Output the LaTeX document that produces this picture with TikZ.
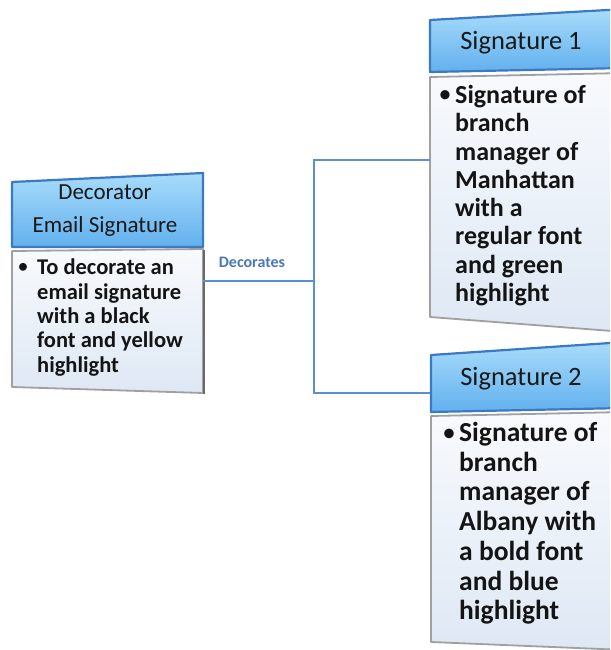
\documentclass[tikz,border=0pt]{standalone}
\usepackage{fontspec}
\setmainfont{Carlito}
\definecolor{hdtop}{HTML}{A8DCFB}
\definecolor{hdbot}{HTML}{62B0EE}
\definecolor{hdline}{HTML}{3B7AC2}
\definecolor{bdtop}{HTML}{F8FAFD}
\definecolor{bdbot}{HTML}{DEE8F4}
\definecolor{bdline}{HTML}{A0A0A0}
\definecolor{bdshadow}{HTML}{6A6A6A}
\definecolor{connc}{HTML}{5B8FD0}
\definecolor{labc}{HTML}{4A78B5}
\tikzset{
  hdshape/.style={top color=hdtop, bottom color=hdbot, draw=hdline, line width=2.2pt, line join=round},
  bdshape/.style={top color=bdtop, bottom color=bdbot, draw=bdline, line width=1.8pt, line join=round},
  shadowline/.style={draw=bdshadow, line width=2.4pt},
  conn/.style={draw=connc, line width=1.1pt},
  bodytext/.style={anchor=north west, inner sep=0pt, align=left, text=black!92, font=\bfseries},
  bullettext/.style={inner sep=0pt, text=black!92},
  headtext/.style={inner sep=0pt, align=center, text=black!90},
}
\begin{document}
\begin{tikzpicture}[x=1pt,y=-1pt]
\useasboundingbox (0,0) rectangle (610,650);
\clip (0,0) rectangle (610,650);

% ---------- left box (Decorator) ----------
\shade[hdshape] (12,182) -- (203,173) -- (203,247) -- (12,247) -- cycle;
\shade[bdshape] (12,251) -- (203,249) -- (203,393) -- (12,387) -- cycle;
\draw[shadowline] (204,250) -- (204,394);
\node[headtext, font=\fontsize{23}{33}\selectfont] (dech) at (105,211) {Decorator\\Email Signature};
\node[bullettext, font=\fontsize{22}{24}\selectfont] (decb) at (23,268) {\textbullet};
\node[bodytext, font=\fontsize{22.5}{24.3}\selectfont\bfseries] (decbody) at (37,259)
  {To decorate an\\email signature\\with a black\\font and yellow\\highlight};

% ---------- Signature 1 ----------
\shade[hdshape] (430,20) -- (625,9) -- (625,68) -- (430,72) -- cycle;
\shade[bdshape] (430,77) -- (625,73) -- (625,332) -- (430,317) -- cycle;
\node[headtext, font=\fontsize{26.5}{30}\selectfont] (s1h) at (521,43) {Signature 1};
\node[bullettext, font=\fontsize{26}{28}\selectfont] (s1b) at (445,97) {\textbullet};
\node[bodytext, font=\fontsize{26}{28.3}\selectfont\bfseries] (s1body) at (455,85)
  {Signature of\\branch\\manager of\\Manhattan\\with a\\regular font\\and green\\highlight};

% ---------- Signature 2 ----------
\shade[hdshape] (431,355) -- (625,342) -- (625,408) -- (431,412) -- cycle;
\shade[bdshape] (431,416) -- (625,412) -- (625,650) -- (431,642) -- cycle;
\node[headtext, font=\fontsize{26.5}{30}\selectfont] (s2h) at (521,379) {Signature 2};
\node[bullettext, font=\fontsize{27}{28}\selectfont] (s2b) at (449,435) {\textbullet};
\node[bodytext, font=\fontsize{27.5}{29.7}\selectfont\bfseries] (s2body) at (459,422)
  {Signature of\\branch\\manager of\\Albany with\\a bold font\\and blue\\highlight};

% ---------- connectors ----------
\coordinate (lout) at (203,281);
\coordinate (junc) at (314,281);
\coordinate (s1in) at (430,160);
\coordinate (s2in) at (430,393);
\draw[conn] (lout) -- (junc);
\draw[conn] (s1in) -| (junc) |- (s2in);
\node[text=labc, font=\fontsize{16}{18}\selectfont\bfseries, inner sep=0pt] (declab) at (252,262) {Decorates};
\end{tikzpicture}
\end{document}
